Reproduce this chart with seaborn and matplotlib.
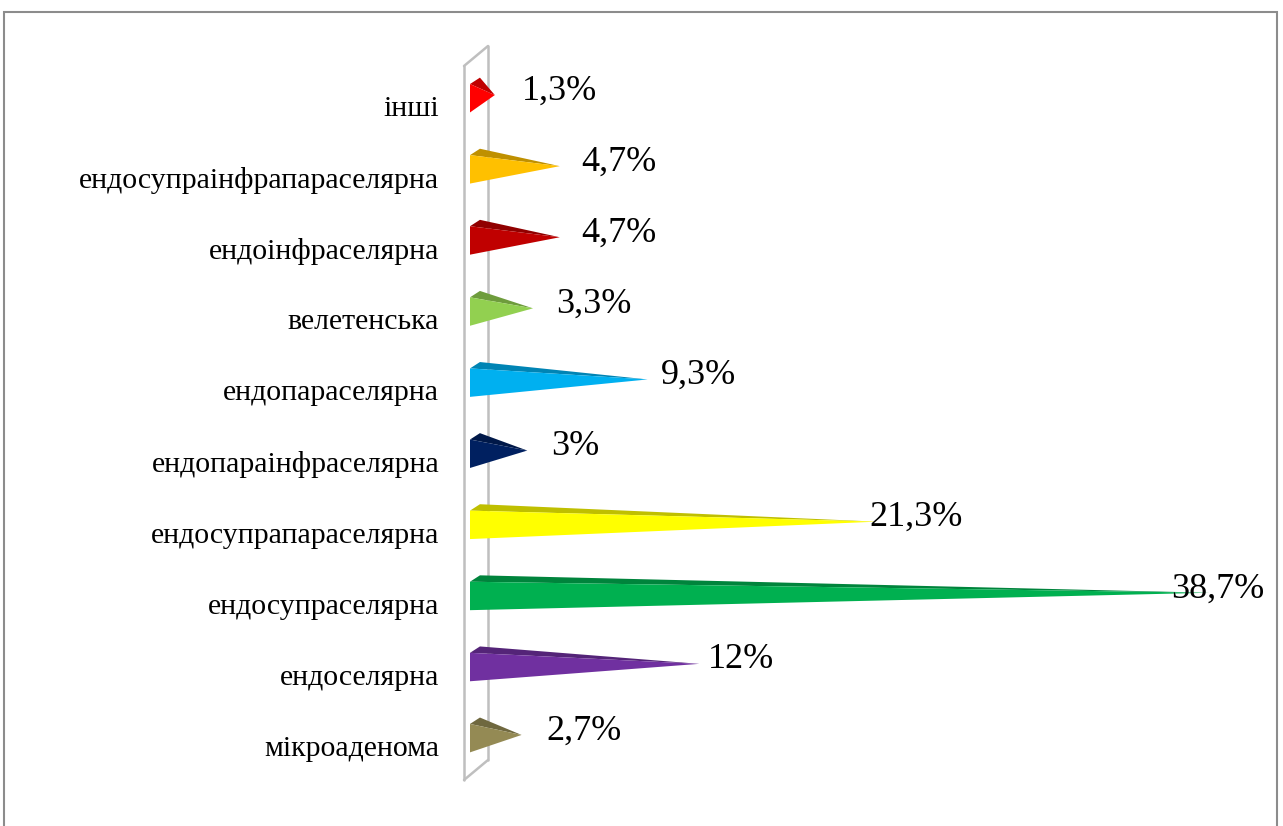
import matplotlib
matplotlib.use("Agg")
import matplotlib.pyplot as plt
import matplotlib.colors as mcolors
from matplotlib.patches import Polygon, Rectangle
import seaborn as sns

categories = ["інші", "ендосупраінфрапараселярна", "ендоінфраселярна", "велетенська",
              "ендопараселярна", "ендопараінфраселярна", "ендосупрапараселярна",
              "ендосупраселярна", "ендоселярна", "мікроаденома"]
values = [1.3, 4.7, 4.7, 3.3, 9.3, 3.0, 21.3, 38.7, 12.0, 2.7]
value_labels = ["1,3%", "4,7%", "4,7%", "3,3%", "9,3%", "3%", "21,3%", "38,7%", "12%", "2,7%"]
colors = ["#FF0000", "#FFC000", "#C00000", "#92D050", "#00B0F0",
          "#002060", "#FFFF00", "#00B050", "#7030A0", "#948A54"]

sns.set_style("white")
plt.rcParams["font.family"] = ["Liberation Serif", "DejaVu Serif"]

W, H = 1283, 826
fig = plt.figure(figsize=(W / 100, H / 100), dpi=100)
ax_l, ax_r, ax_t, ax_b = 440, 1275, 40, 790
ax = fig.add_axes([ax_l / W, 1 - ax_b / H, (ax_r - ax_l) / W, (ax_b - ax_t) / H])

sns.barplot(x=values, y=categories, hue=categories, palette=colors, order=categories,
            hue_order=categories, width=0.40, orient="h", legend=False,
            saturation=1, ax=ax)

px_per_x = 19.1
px_per_y = 71.1
x0_px = 470
first_row_px = 106
ax.set_xlim(-(x0_px - ax_l) / px_per_x, (ax_r - x0_px) / px_per_x)
ytop = -(first_row_px - ax_t) / px_per_y
ax.set_ylim(ytop + (ax_b - ax_t) / px_per_y, ytop)

def py(p):
    return ytop + (p - ax_t) / px_per_y

def pxx(p):
    return (p - x0_px) / px_per_x

# back wall (3D axis plane)
wall_c = "#BFBFBF"
xl, xr = pxx(464), pxx(488)
kw = dict(color=wall_c, lw=1.8, zorder=1, solid_capstyle="round")
ax.plot([xl, xl], [py(66), py(780)], **kw)
ax.plot([xr, xr], [py(46), py(760)], **kw)
ax.plot([xl, xr], [py(66), py(46)], **kw)
ax.plot([xl, xr], [py(780), py(760)], **kw)

shift = -0.109
for p in list(ax.patches):
    bx, by, bw, bh = p.get_x(), p.get_y(), p.get_width(), p.get_height()
    fc = p.get_facecolor()
    p.set_visible(False)
    top = by + shift
    bot = by + bh + shift
    tip_y = (top + bot) / 2 - 0.045
    dark = tuple(c * 0.75 for c in mcolors.to_rgb(fc))
    dx = min(0.52, bw * 0.4)
    ax.add_patch(Polygon([(bx + dx, top - 0.09), (bx, top), (bx + bw, tip_y)],
                         closed=True, facecolor=dark, edgecolor="none", zorder=3))
    ax.add_patch(Polygon([(bx, top), (bx, bot), (bx + bw, tip_y)],
                         closed=True, facecolor=fc, edgecolor="none", zorder=4))

for i, (v, lab) in enumerate(zip(values, value_labels)):
    ax.text(0.909 * v + 1.53, i - 0.09, lab, ha="left", va="baseline",
            fontsize=26, color="black", zorder=5)

for s in ax.spines.values():
    s.set_visible(False)
ax.set_xticks([])
ax.set_xlabel("")
ax.set_ylabel("")
ax.tick_params(axis="y", length=0, pad=0.5, labelsize=21.5, labelcolor="black")

fig.patches.append(Rectangle((4 / W, -0.1), (1277 - 4) / W, 1.1 - 12 / H,
                             transform=fig.transFigure, fill=False,
                             edgecolor="#8C8C8C", lw=1.5))

fig.savefig("out.png", dpi=100, facecolor="white")
